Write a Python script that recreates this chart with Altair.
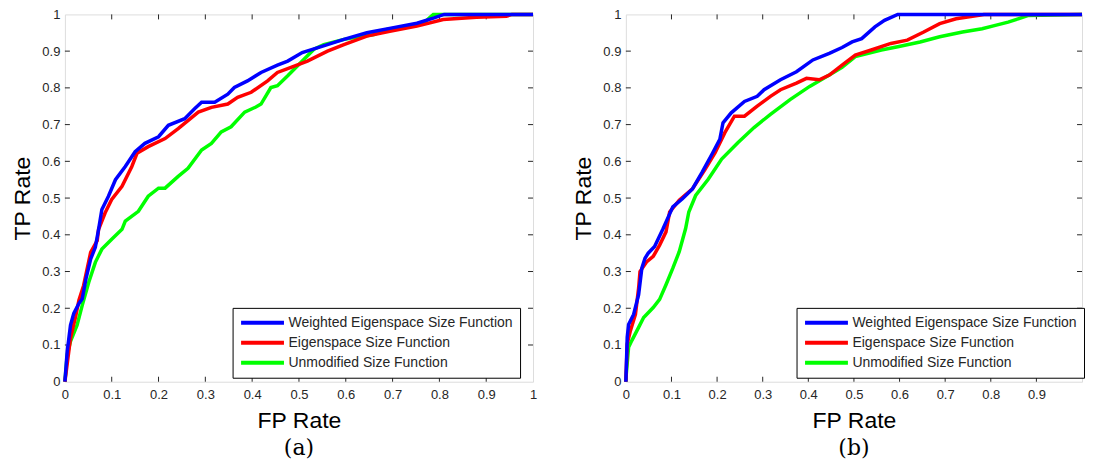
import altair as alt
import pandas as pd

SERIES = ["Weighted Eigenspace Size Function", "Eigenspace Size Function", "Unmodified Size Function"]
COLORS = ["#0000ff", "#ff0000", "#00ff00"]
TICKS = [0, 0.1, 0.2, 0.3, 0.4, 0.5, 0.6, 0.7, 0.8, 0.9, 1]
INNER = [0.1, 0.2, 0.3, 0.4, 0.5, 0.6, 0.7, 0.8, 0.9]

# ---- panel (a) ----
a_w_x = [0, 0.005, 0.012, 0.019, 0.030, 0.037, 0.045, 0.055, 0.065, 0.072, 0.079, 0.093, 0.108, 0.129, 0.150,
         0.171, 0.200, 0.221, 0.256, 0.277, 0.292, 0.320, 0.348, 0.362, 0.390, 0.419, 0.454, 0.476, 0.507, 0.539,
         0.596, 0.645, 0.702, 0.752, 0.787, 0.81, 1.0]
a_w_y = [0, 0.083, 0.154, 0.186, 0.213, 0.226, 0.280, 0.334, 0.366, 0.415, 0.469, 0.505, 0.550, 0.586, 0.626,
         0.649, 0.667, 0.698, 0.716, 0.743, 0.761, 0.761, 0.783, 0.801, 0.819, 0.842, 0.862, 0.873, 0.896, 0.909,
         0.932, 0.950, 0.964, 0.976, 0.990, 1.0, 1.0]
a_e_x = [0, 0.012, 0.023, 0.030, 0.040, 0.055, 0.069, 0.072, 0.086, 0.100, 0.122, 0.143, 0.154, 0.178, 0.214,
         0.242, 0.285, 0.313, 0.348, 0.369, 0.398, 0.433, 0.454, 0.483, 0.518, 0.561, 0.596, 0.645, 0.694, 0.752,
         0.808, 0.879, 0.943, 0.955, 1.0]
a_e_y = [0, 0.119, 0.178, 0.222, 0.262, 0.352, 0.384, 0.415, 0.460, 0.496, 0.532, 0.586, 0.622, 0.640, 0.662,
         0.689, 0.734, 0.747, 0.756, 0.774, 0.788, 0.819, 0.842, 0.856, 0.873, 0.900, 0.918, 0.941, 0.954, 0.968,
         0.986, 0.992, 0.995, 1.0, 1.0]
a_u_x = [0, 0.005, 0.012, 0.026, 0.037, 0.051, 0.065, 0.079, 0.100, 0.122, 0.129, 0.157, 0.178, 0.200, 0.214,
         0.242, 0.263, 0.292, 0.313, 0.334, 0.355, 0.384, 0.408, 0.419, 0.440, 0.454, 0.476, 0.504, 0.532, 0.553,
         0.596, 0.660, 0.688, 0.752, 0.766, 0.780, 0.787, 1.0]
a_u_y = [0, 0.074, 0.110, 0.154, 0.208, 0.271, 0.325, 0.361, 0.388, 0.415, 0.437, 0.464, 0.505, 0.527, 0.527,
         0.559, 0.581, 0.631, 0.649, 0.680, 0.694, 0.734, 0.748, 0.756, 0.801, 0.806, 0.833, 0.869, 0.905, 0.918,
         0.932, 0.945, 0.959, 0.972, 0.976, 0.992, 1.0, 1.0]

# ---- panel (b) ----
b_w_x = [0, 0.003, 0.006, 0.017, 0.028, 0.035, 0.042, 0.049, 0.063, 0.081, 0.103, 0.124, 0.146, 0.167, 0.189,
         0.206, 0.213, 0.231, 0.260, 0.288, 0.303, 0.339, 0.374, 0.410, 0.446, 0.474, 0.496, 0.517, 0.546, 0.567,
         0.596, 1.0]
b_w_y = [0, 0.121, 0.156, 0.183, 0.237, 0.309, 0.336, 0.350, 0.368, 0.415, 0.476, 0.498, 0.525, 0.570, 0.620,
         0.660, 0.705, 0.732, 0.763, 0.777, 0.795, 0.822, 0.844, 0.876, 0.894, 0.910, 0.925, 0.934, 0.966, 0.984,
         1.0, 1.0]
b_e_x = [0, 0.003, 0.010, 0.021, 0.028, 0.031, 0.046, 0.060, 0.074, 0.088, 0.096, 0.117, 0.146, 0.174, 0.196,
         0.217, 0.238, 0.260, 0.288, 0.317, 0.339, 0.374, 0.396, 0.424, 0.446, 0.474, 0.503, 0.538, 0.581, 0.617,
         0.653, 0.688, 0.724, 0.760, 0.785, 1.0]
b_e_y = [0, 0.103, 0.139, 0.183, 0.255, 0.300, 0.327, 0.341, 0.372, 0.408, 0.462, 0.494, 0.525, 0.579, 0.624,
         0.678, 0.723, 0.723, 0.750, 0.777, 0.795, 0.813, 0.826, 0.822, 0.835, 0.862, 0.889, 0.903, 0.921, 0.930,
         0.952, 0.975, 0.988, 0.995, 1.0, 1.0]
b_u_x = [0, 0.001, 0.006, 0.013, 0.028, 0.039, 0.060, 0.074, 0.088, 0.103, 0.117, 0.125, 0.131, 0.138, 0.153,
         0.181, 0.210, 0.246, 0.281, 0.317, 0.360, 0.403, 0.446, 0.474, 0.503, 0.560, 0.596, 0.645, 0.688, 0.738,
         0.781, 0.810, 0.838, 0.860, 0.881, 1.0]
b_u_y = [0, 0.022, 0.094, 0.112, 0.148, 0.175, 0.202, 0.224, 0.264, 0.309, 0.354, 0.390, 0.417, 0.462, 0.507,
         0.552, 0.606, 0.651, 0.692, 0.728, 0.768, 0.804, 0.835, 0.856, 0.885, 0.903, 0.912, 0.925, 0.939, 0.952,
         0.961, 0.970, 0.979, 0.988, 0.997, 1.0]

FONT = "Liberation Sans"
LABEL_COLOR = "#262626"
LEGEND_LINE = "M-3.58,0H3.58"   # wide flat stroke symbol for the legend


def curves(xs_list, ys_list):
    rows = []
    # draw order: unmodified, eigenspace, weighted (weighted on top)
    for k in [2, 1, 0]:
        for i, (x, y) in enumerate(zip(xs_list[k], ys_list[k])):
            rows.append({"series": SERIES[k], "i": i, "fp": x, "tp": y})
    return pd.DataFrame(rows)


def tick_table(lx, ly):
    rows = []
    for t in INNER:
        rows.append({"fp": t, "fp2": t, "tp": 0, "tp2": ly})
        rows.append({"fp": t, "fp2": t, "tp": 1, "tp2": 1 - ly})
        rows.append({"fp": 0, "fp2": lx, "tp": t, "tp2": t})
        rows.append({"fp": 1, "fp2": 1 - lx, "tp": t, "tp2": t})
    return pd.DataFrame(rows)


def panel(df, caption, width, height, lx, ly, hide_one):
    xaxis = alt.Axis(values=TICKS, format="~g", title="FP Rate", grid=False, ticks=False, domain=False,
                     labelFont=FONT, labelFontSize=13, labelColor=LABEL_COLOR, labelPadding=7,
                     titleFont=FONT, titleFontSize=23, titleFontWeight="normal", titleColor="#000000",
                     titlePadding=8, labelFlush=False,
                     labelExpr="datum.value == 1 ? '' : datum.label" if hide_one else "datum.label")
    yaxis = alt.Axis(values=TICKS, format="~g", title="TP Rate", grid=False, ticks=False, domain=False,
                     labelFont=FONT, labelFontSize=13, labelColor=LABEL_COLOR, labelPadding=5,
                     titleFont=FONT, titleFontSize=23, titleFontWeight="normal", titleColor="#000000",
                     titlePadding=7, labelFlush=False)
    xs = alt.Scale(domain=[0, 1], nice=False, zero=False)
    ys = alt.Scale(domain=[0, 1], nice=False, zero=False)
    X = alt.X("fp:Q", scale=xs, axis=xaxis, title="FP Rate")
    Y = alt.Y("tp:Q", scale=ys, axis=yaxis, title="TP Rate")

    ticks = alt.Chart(tick_table(5 / width, 5 / height)).mark_rule(color=LABEL_COLOR, strokeWidth=1).encode(
        x=X, x2="fp2:Q", y=Y, y2="tp2:Q")

    lines = alt.Chart(df).mark_line(strokeWidth=3.5, interpolate="linear").encode(
        x=X, y=Y,
        color=alt.Color("series:N", scale=alt.Scale(domain=SERIES, range=COLORS),
                        legend=alt.Legend(title=None, orient="none", legendX=lx, legendY=ly,
                                          strokeColor="#000000", fillColor="#ffffff", padding=7,
                                          symbolType=LEGEND_LINE, symbolSize=144, symbolStrokeWidth=4,
                                          symbolOffset=15, labelOffset=18,
                                          labelFont=FONT, labelFontSize=14, labelColor=LABEL_COLOR,
                                          labelLimit=400, rowPadding=4)),
        order=alt.Order("i:Q"),
    )
    return alt.layer(ticks, lines).properties(
        width=width, height=height,
        title=alt.TitleParams(caption, orient="bottom", font="DejaVu Serif", fontSize=22,
                              fontWeight="normal", color="#000000", offset=5),
    )


dfa = curves([a_w_x, a_e_x, a_u_x], [a_w_y, a_e_y, a_u_y])
dfb = curves([b_w_x, b_e_x, b_u_x], [b_w_y, b_e_y, b_u_y])

pa = panel(dfa, "(a)", 469, 368, 168, 294, False)
pb = panel(dfb, "(b)", 457, 368, 171, 294, True)

chart = alt.hconcat(pa, pb, spacing=31).resolve_scale(color="independent").properties(
    padding={"left": 3, "top": -2, "right": 0, "bottom": -1}
).configure_view(stroke="#000000", strokeWidth=1).configure(background="#ffffff")

chart.save("out.html", embed_options={"renderer": "svg", "actions": False})
